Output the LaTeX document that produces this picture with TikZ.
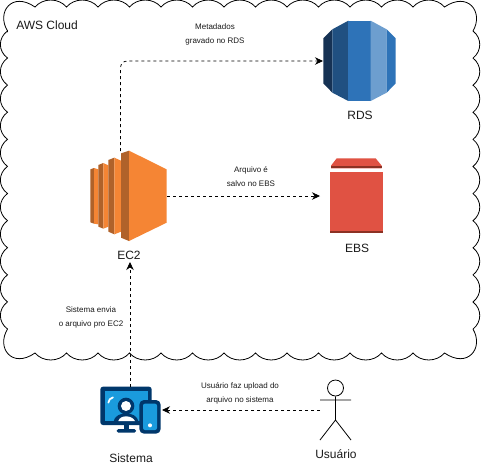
\documentclass[tikz,border=0pt]{standalone}
\usepackage{fontspec}
\setmainfont{Liberation Sans}
\usetikzlibrary{arrows.meta}
\definecolor{txt}{HTML}{1A1A1A}
\definecolor{navy}{HTML}{00376B}
\definecolor{sky}{HTML}{1A9BDD}
\tikzset{
  lbl/.style={font=\fontsize{9}{11}\selectfont,text=txt,inner sep=0pt},
  small/.style={font=\fontsize{6}{8}\selectfont,text=txt,inner sep=0pt,align=center},
  conn/.style={draw=black,dashed,dash pattern=on 2.25pt off 2.25pt,line width=0.55pt,-{Stealth[length=6pt,width=5.6pt]}},
}
\begin{document}
\begin{tikzpicture}[x=0.75pt,y=-0.75pt]
\useasboundingbox (0,0) rectangle (481,465);
% cloud
\draw[line width=0.6pt,fill=white] (7.5,31) .. controls (-4,12) and (12,-9) .. (35,7)
 \foreach \a in {35,66.5,98,129.5,161,192.5,224,255.5,287,318.5,350,381.5,413} {
   .. controls (\a+8,-2.3) and (\a+23.5,-2.3) .. (\a+31.5,7) }
 .. controls (468,-9) and (484,12) .. (473,31)
 \foreach \a in {31,58.1,85.2,112.3,139.4,166.5,193.6,220.7,247.8,274.9,302} {
   .. controls (482,\a+7) and (482,\a+20) .. (473,\a+27.1) }
 .. controls (484,348) and (468,369) .. (444.5,353)
 \foreach \a in {444.5,413,381.5,350,318.5,287,255.5,224,192.5,161,129.5,98,66.5} {
   .. controls (\a-8,362.3) and (\a-23.5,362.3) .. (\a-31.5,353) }
 .. controls (12,369) and (-4,348) .. (7.5,329)
 \foreach \a in {329,301.9,274.8,247.7,220.6,193.5,166.4,139.3,112.2,85.1,58} {
   .. controls (-2,\a-7) and (-2,\a-20) .. (7.5,\a-27.1) }
 -- cycle;
\node[lbl,anchor=west] (cloud) at (16,25) {AWS Cloud};
% RDS icon
\begin{scope}[shift={(300,0)},x=0.25pt,y=-0.25pt]
\fill[color={rgb,255:red,22;green,50;blue,84}] (70,115)--(97,88)--(97,278)--(70,250)--cycle;
\fill[color={rgb,255:red,32;green,80;blue,129}] (97,88)--(145,62)--(145,303)--(97,278)--cycle;
\fill[color={rgb,255:red,46;green,115;blue,184}] (145,62)--(212,62)--(212,303)--(145,303)--cycle;
\fill[color={rgb,255:red,109;green,158;blue,207}] (212,62)--(260,88)--(260,278)--(212,303)--cycle;
\fill[color={rgb,255:red,46;green,115;blue,184}] (260,88)--(287,115)--(287,250)--(260,278)--cycle;
\end{scope}
\node[inner sep=0pt,minimum width=54.75pt,minimum height=60.75pt] (rds) at (359.5,60.5) {};
\node[lbl] (rdsl) at (360,115) {RDS};
% EC2 icon
\begin{scope}[shift={(70,130)},x=0.25pt,y=-0.25pt]
\fill[color={rgb,255:red,176;green,98;blue,42}] (61,118)--(72,114)--(72,281)--(61,277)--cycle;
\fill[color={rgb,255:red,245;green,133;blue,52}] (72,114)--(85,118)--(85,283)--(72,281)--cycle;
\fill[color={rgb,255:red,176;green,98;blue,42}] (85,105)--(100,99)--(100,296)--(85,290)--cycle;
\fill[color={rgb,255:red,245;green,133;blue,52}] (100,99)--(115,106)--(115,290)--(100,296)--cycle;
\fill[color={rgb,255:red,176;green,98;blue,42}] (115,90)--(133,83)--(133,313)--(115,305)--cycle;
\fill[color={rgb,255:red,245;green,133;blue,52}] (133,83)--(153,92)--(153,305)--(133,313)--cycle;
\fill[color={rgb,255:red,176;green,98;blue,42}] (153,70)--(177,62)--(177,333)--(153,323)--cycle;
\fill[color={rgb,255:red,245;green,133;blue,52}] (177,62)--(290,118)--(290,278)--(177,333)--cycle;
\end{scope}
\node[inner sep=0pt,minimum width=57.5pt,minimum height=68pt] (ec2) at (128.5,195.5) {};
\node[lbl] (ec2l) at (129,255) {EC2};
% EBS icon
\begin{scope}[shift={(310,140)},x=0.25pt,y=-0.25pt]
\fill[color={rgb,255:red,224;green,82;blue,67}] (63,77)--(80,55)--(197,55)--(215,77)--(215,85)--(63,85)--cycle;
\fill[color={rgb,255:red,140;green,49;blue,35}] (63,79)--(215,79)--(215,85)--(63,85)--cycle;
\fill[color={rgb,255:red,224;green,82;blue,67}] (61,97)--(218,97)--(218,280)--(61,280)--cycle;
\fill[color={rgb,255:red,140;green,49;blue,35}] (61,272)--(218,272)--(218,280)--(61,280)--cycle;
\end{scope}
\node[inner sep=0pt,minimum width=39.75pt,minimum height=56pt] (ebs) at (356.5,196) {};
\node[lbl] (ebsl) at (357,248) {EBS};
% Sistema icon
\begin{scope}[shift={(80,370)},x=0.25pt,y=-0.25pt]
\fill[navy,rounded corners=2pt] (61,50) rectangle (215,165);
\fill[sky] (74,63) rectangle (203,153);
\fill[navy] (132,165) rectangle (148,180);
\fill[navy,rounded corners=1.2pt] (110,177) rectangle (168,188);
\draw[white,line width=1.3pt,line cap=round] (85,98) .. controls (86,90) and (91,84) .. (99,82);
\fill[navy] (138,108) circle[radius=25];
\fill[white] (138,108) circle[radius=15];
\fill[navy] (100,156) .. controls (103,137) and (122,130) .. (138,130) .. controls (154,130) and (173,137) .. (176,156) -- cycle;
\fill[white] (115,153) .. controls (118,143) and (128,139) .. (138,139) .. controls (148,139) and (160,143) .. (165,153) -- cycle;
\fill[navy,rounded corners=3.5pt] (178,90) rectangle (242,191);
\fill[sky,rounded corners=1.5pt] (189,101) rectangle (231,180);
\fill[white] (210,166) circle[radius=6];
\end{scope}
\node[inner sep=0pt,minimum width=34.5pt,minimum height=35pt] (sis) at (130,412) {};
\node[lbl] (sisl) at (131,458) {Sistema};
% actor
\node[circle,draw=black,line width=0.6pt,minimum size=12pt,inner sep=0pt] (head) at (335.5,388) {};
\coordinate (hip) at (335.5,420);
\coordinate (armL) at (320,400);
\coordinate (armR) at (351,400);
\coordinate (legL) at (320,440);
\coordinate (legR) at (351,440);
\draw[line width=0.6pt] (head.south) -- (hip) (armL) -- (armR) (hip) -- (legL) (hip) -- (legR);
\node[lbl] (usul) at (336,454) {Usuário};
% connector ends
\coordinate (ec2top) at (120.5,151);
\coordinate (rdsin) at (323,61);
\coordinate (ec2r) at (167,196);
\coordinate (ebsin) at (320,196);
\coordinate (sistop) at (130,387);
\coordinate (ec2in) at (130,262);
\coordinate (actorl) at (320,410);
\coordinate (sisr) at (162,410);
\draw[conn,rounded corners=5pt] (ec2top) |- (rdsin);
\draw[conn] (ec2r) -- (ebsin);
\draw[conn] (sistop) -- (ec2in);
\draw[conn] (actorl) -- (sisr);
% labels
\node[small] (t1) at (215,34) {Metadados\\[2.4pt]gravado no RDS};
\node[small] (t2) at (251,177) {Arquivo é\\[2.4pt]salvo no EBS};
\node[small] (t3) at (91,317) {Sistema envia\\[2.4pt]o arquivo pro EC2};
\node[small] (t4) at (240,393) {Usuário faz upload do\\[2.4pt]arquivo no sistema};
\end{tikzpicture}
\end{document}
